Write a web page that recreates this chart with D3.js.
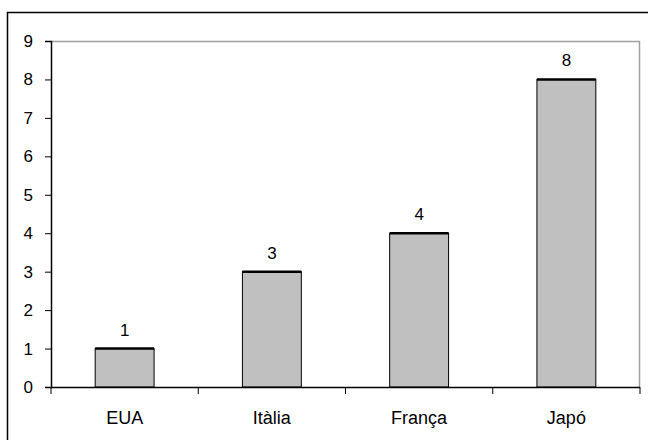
<!DOCTYPE html>
<html>
<head>
<meta charset="utf-8">
<script src="https://cdn.jsdelivr.net/npm/d3@7"></script>
<style>
  html, body { margin: 0; padding: 0; background: #fff; }
  svg { display: block; }
  text { font-family: Arial, "Liberation Sans", sans-serif; fill: #000; }
</style>
</head>
<body>
<svg id="chart" width="648" height="440"></svg>
<script>
const categories = ["EUA", "Itàlia", "França", "Japó"];
const values = [1, 3, 4, 8];
const yTicks = [0, 1, 2, 3, 4, 5, 6, 7, 8, 9];

(function () {
const svg = d3.select("#chart");
const pLeft = 51, pRight = 640, pTop = 41, pBottom = 387;
const FONT = "Arial, 'Liberation Sans', sans-serif";

// outer chart border (extends past right/bottom edges)
svg.append("rect")
  .attr("x", 7.5).attr("y", 12.5)
  .attr("width", 700).attr("height", 500)
  .attr("fill", "#fff").attr("stroke", "#000").attr("stroke-width", 1.5);

const x = d3.scaleBand().domain(categories).range([pLeft, pRight]).paddingInner(0).paddingOuter(0);
const y = d3.scaleLinear().domain([0, 9]).range([pBottom, pTop]);

// plot area border (gray top and right)
svg.append("path")
  .attr("d", `M${pLeft},${pTop + 0.5}H${pRight - 0.5}V${pBottom}`)
  .attr("fill", "none").attr("stroke", "#a0a0a0").attr("stroke-width", 1.5);

// bars
const barW = x.bandwidth() * 0.4;
const bars = svg.append("g");
bars.selectAll("rect").data(values).join("rect")
  .attr("x", (d, i) => x(categories[i]) + x.bandwidth() / 2 - barW / 2)
  .attr("y", d => y(d))
  .attr("width", barW)
  .attr("height", d => y(0) - y(d))
  .attr("fill", "#c0c0c0").attr("stroke", "#000").attr("stroke-width", 1);
bars.selectAll("line.top").data(values).join("line")
  .attr("class", "top")
  .attr("x1", (d, i) => x(categories[i]) + x.bandwidth() / 2 - barW / 2)
  .attr("x2", (d, i) => x(categories[i]) + x.bandwidth() / 2 + barW / 2)
  .attr("y1", d => y(d)).attr("y2", d => y(d))
  .attr("stroke", "#000").attr("stroke-width", 2.5);

// value labels
svg.append("g").selectAll("text").data(values).join("text")
  .attr("x", (d, i) => x(categories[i]) + x.bandwidth() / 2)
  .attr("y", d => y(d) - 13)
  .attr("text-anchor", "middle")
  .attr("font-size", 17)
  .text(d => d);

// y axis
const yAxis = svg.append("g").attr("transform", `translate(${pLeft},0)`)
  .call(d3.axisLeft(y).tickValues(yTicks).tickSize(6).tickPadding(12).tickFormat(d3.format("d")));
yAxis.select(".domain").attr("stroke", "#000").attr("stroke-width", 1.5);
yAxis.selectAll(".tick line").attr("stroke", "#000");
yAxis.selectAll("text").attr("font-size", 17).attr("font-family", FONT);

// x axis
const xAxis = svg.append("g").attr("transform", `translate(0,${pBottom})`)
  .call(d3.axisBottom(x).tickSize(0).tickPadding(24));
xAxis.select(".domain").attr("d", `M${pLeft},0.5H${pRight}`).attr("stroke", "#000").attr("stroke-width", 1.5);
xAxis.selectAll("text").attr("font-size", 18).attr("font-family", FONT);
// category boundary ticks
const bounds = categories.map(c => x(c)).concat([x(categories[categories.length - 1]) + x.bandwidth()]);
xAxis.append("g").selectAll("line").data(bounds).join("line")
  .attr("x1", d => d).attr("x2", d => d)
  .attr("y1", 0).attr("y2", 7)
  .attr("stroke", "#000").attr("stroke-width", 1);
})();
</script>
</body>
</html>
